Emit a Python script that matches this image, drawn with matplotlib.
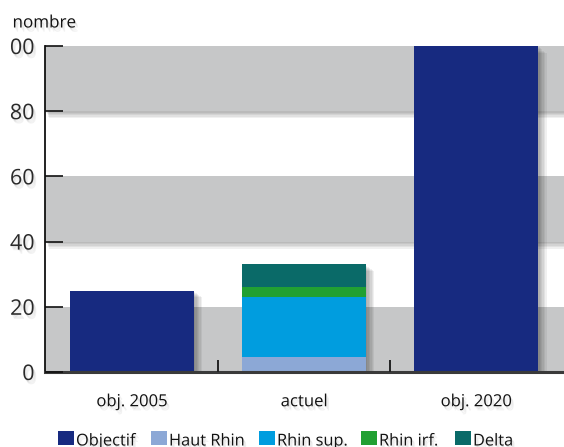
import matplotlib
matplotlib.use("Agg")
import matplotlib.pyplot as plt
import matplotlib.patheffects as pe
from matplotlib.patches import Rectangle
from matplotlib.transforms import Bbox, TransformedBbox
import numpy as np

# Data
categories = ["obj. 2005", "actuel", "obj. 2020"]
objectif = [25, 0, 100]
haut_rhin = [0, 4.5, 0]
rhin_sup = [0, 18.5, 0]
rhin_inf = [0, 3, 0]
delta = [0, 7, 0]
series_names = ["Objectif", "Haut Rhin", "Rhin sup.", "Rhin irf.", "Delta"]
series_colors = ["#172a80", "#8ca8d6", "#009ddf", "#21a032", "#0a6a68"]
yticks = [0, 20, 40, 60, 80, 100]
band_color = "#c6c7c8"

plt.rcParams["font.family"] = ["Open Sans", "DejaVu Sans"]

W, H = 564, 447
fig = plt.figure(figsize=(W / 100, H / 100), dpi=100)
ax = fig.add_axes([45 / W, 75 / H, 1 - 45 / W, (372 - 46) / H])


def soft_shadow(dx, dy, steps, alpha):
    """Layered offset shadows that fade out, giving a blurred drop shadow."""
    effects = []
    for i in range(steps, 0, -1):
        f = i / steps
        effects.append(pe.SimplePatchShadow(offset=(dx * f, -dy * f),
                                            shadow_rgbFace="#000000", alpha=alpha))
    return effects


band_fx = soft_shadow(3, 5, 5, 0.06) + [pe.Normal()]
text_fx = soft_shadow(2, 3, 3, 0.05) + [pe.Normal()]

# Alternating grey bands
for lo in yticks[:-1:2]:
    ax.axhspan(lo, lo + 20, color=band_color, lw=0, zorder=0, path_effects=band_fx)

x = np.arange(len(categories))
w = 0.72
bottom = np.zeros(len(categories))
for vals, color in zip([objectif, haut_rhin, rhin_sup, rhin_inf, delta], series_colors):
    vals = np.array(vals, dtype=float)
    ax.bar(x, vals, width=w, bottom=bottom, color=color, lw=0, zorder=2)
    bottom += vals
# soft shadow behind each full stack
ax.bar(x, bottom, width=w, color="none", lw=0, zorder=1.5,
       path_effects=soft_shadow(6, 5, 6, 0.06))

ax.set_xlim(-0.505, 2.51)
ax.set_ylim(0, 100)
ax.set_yticks(yticks)
ax.set_yticklabels([str(v) for v in yticks], fontsize=15.5, color="#2a2a2a")
ax.tick_params(axis="y", direction="in", length=13, width=1.2, pad=7.5, colors="#111111")
ax.tick_params(axis="y", labelcolor="#2a2a2a")
# the axis labels sit against the left edge of the figure
clip = TransformedBbox(Bbox.from_extents(9 / W, 0, 1, 1), fig.transFigure)
for lab in ax.get_yticklabels():
    lab.set_path_effects(text_fx)
    lab.set_clip_box(clip)
    lab.set_clip_on(True)

ax.set_xticks(x)
ax.set_xticklabels(categories, fontsize=12, color="#111111")
ax.tick_params(axis="x", length=0, pad=16)
for lab in ax.get_xticklabels():
    lab.set_path_effects(text_fx)
ax.set_xticks([0.5, 1.5], minor=True)
ax.tick_params(axis="x", which="minor", direction="in", length=9, width=1.4, colors="#222222")

for s in ["top", "right"]:
    ax.spines[s].set_visible(False)
ax.spines["left"].set_linewidth(1.3)
ax.spines["left"].set_color("#111111")
ax.spines["bottom"].set_linewidth(2.2)
ax.spines["bottom"].set_color("#3a3a3a")
ax.spines["bottom"].set_path_effects(soft_shadow(2, 4, 4, 0.07) + [pe.Normal()])
ax.set_axisbelow(False)

fig.text(12.5 / W, 1 - 27.5 / H, "nombre", fontsize=12.3, color="#111111",
         va="baseline", ha="left", path_effects=text_fx)

# Legend row along the bottom edge
leg_x = [58, 151, 259, 361, 455]
for xp, name, color in zip(leg_x, series_names, series_colors):
    fig.add_artist(Rectangle((xp / W, 1 - 445 / H), 15.5 / W, 14.5 / H,
                             transform=fig.transFigure, facecolor=color, lw=0))
    fig.text((xp + 18) / W, 1 - 445.5 / H, name, fontsize=11.8, color="#111111",
             va="baseline", ha="left", path_effects=text_fx)

fig.savefig("out.png", dpi=100)
